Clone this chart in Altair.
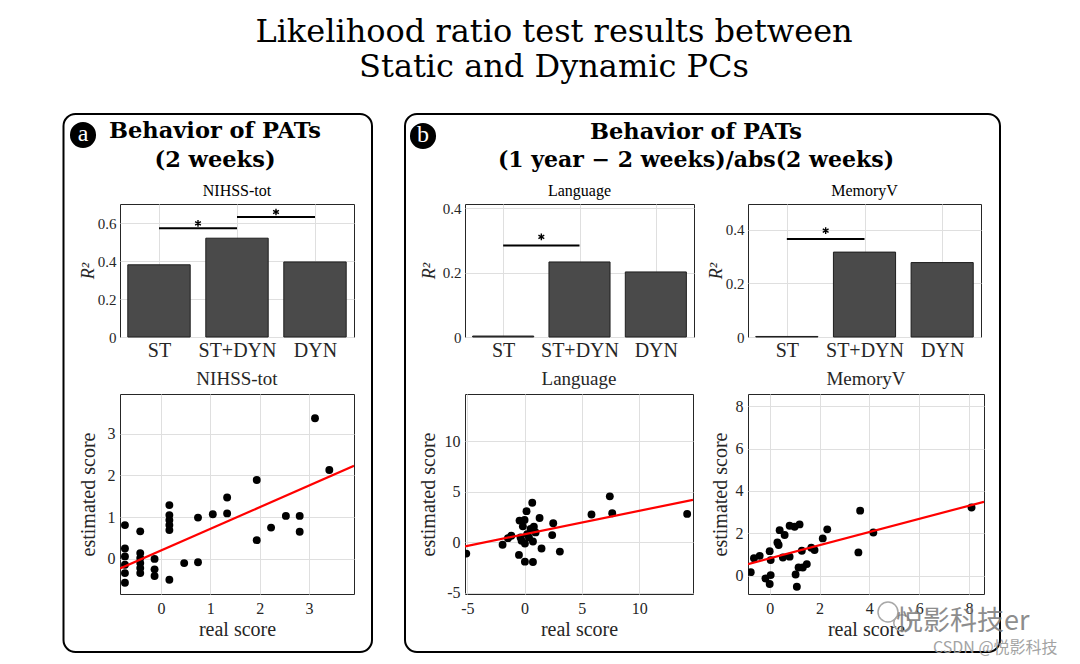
import json
import altair as alt
import pandas as pd

# ---------------------------------------------------------------- data
cats = ["ST", "ST+DYN", "DYN"]

r2_nihss = [0.380, 0.520, 0.395]
r2_lang = [0.003, 0.233, 0.202]
r2_mem = [0.002, 0.316, 0.277]

# significance brackets (category index from / to, bracket height, star height)
nihss_sig_from = [1, 2]
nihss_sig_to = [2, 3]
nihss_sig_y = [0.572, 0.632]
nihss_star_y = [0.598, 0.658]

lang_sig_from = [1]
lang_sig_to = [2]
lang_sig_y = [0.284]
lang_star_y = [0.311]

mem_sig_from = [1]
mem_sig_to = [2]
mem_sig_y = [0.365]
mem_star_y = [0.396]

nihss_real = [-0.73, -0.73, -0.73, -0.73, -0.73, -0.73, -0.42, -0.42, -0.42, -0.42, -0.42, -0.42,
              -0.13, -0.13, -0.13, 0.17, 0.17, 0.17, 0.17, 0.17, 0.17, 0.47, 0.75, 0.75, 1.05,
              1.34, 1.34, 1.94, 1.94, 2.23, 2.53, 2.81, 2.81, 3.12, 3.41]
nihss_est = [0.81, 0.25, 0.06, -0.14, -0.34, -0.57, 0.66, 0.14, 0.02, -0.10, -0.22, -0.34,
             0.00, -0.25, -0.41, 1.29, 1.05, 0.93, 0.81, 0.69, -0.50, -0.10, 0.99, -0.08, 1.07,
             1.47, 1.09, 1.89, 0.45, 0.75, 1.03, 1.03, 0.65, 3.37, 2.13]
nihss_fit_real = [-0.83, 3.91]
nihss_fit_est = [-0.23, 2.23]

lang_real = [-5.09, -1.92, -1.45, -1.16, -0.49, -0.44, 0.00, -0.15, 0.17, 0.67, -0.26, 0.03,
             0.23, 0.52, 0.81, 0.96, 0.73, 0.03, 0.73, 1.31, 1.48, 2.41, 2.50, 3.08, 5.84,
             7.44, 7.65, 14.19, 0.38, -0.35]
lang_est = [-1.10, -0.23, 0.43, 0.67, -1.23, 2.17, 2.23, 1.60, 3.10, 3.93, 0.17, -0.10,
            0.83, 1.33, 1.57, 1.00, 0.10, -1.90, -1.93, 2.43, -0.60, 0.73, 1.90, -0.90, 2.77,
            4.57, 2.90, 2.83, 0.50, 0.50]
lang_fit_real = [-5.2, 14.7]
lang_fit_est = [-0.38, 4.22]

mem_real = [-0.76, -0.63, -0.40, -0.17, 0.00, 0.04, 0.04, 0.00, 0.31, 0.36, 0.40, 0.60, 0.53,
            0.80, 0.80, 1.00, 1.20, 1.04, 1.09, 1.16, 1.29, 1.33, 1.49, 1.67, 1.80, 2.13, 2.31,
            3.56, 3.63, 4.16, 8.10]
mem_est = [0.17, 0.83, 0.94, -0.13, 1.16, 0.74, 0.03, -0.39, 1.57, 1.45, 2.15, 1.92, 0.86,
           0.90, 2.36, 2.31, 2.42, 0.06, -0.52, 0.39, 1.18, 0.39, 0.55, 1.32, 1.21, 1.76, 2.19,
           1.10, 3.07, 2.04, 3.22]
mem_fit_real = [-0.87, 8.6]
mem_fit_est = [0.55, 3.49]

# axis limits / ticks
nihss_bar_max, lang_bar_max, mem_bar_max = 0.70, 0.413, 0.495
nihss_bar_ticks = [0, 0.2, 0.4, 0.6]
lang_bar_ticks = [0, 0.1, 0.2, 0.3, 0.4]
mem_bar_ticks = [0, 0.1, 0.2, 0.3, 0.4]

nihss_xdom, nihss_ydom, nihss_ticks = [-0.83, 3.91], [-0.84, 3.95], [0, 1, 2, 3]
lang_xdom, lang_ydom, lang_ticks = [-5.2, 14.7], [-5.1, 14.7], [-5, 0, 5, 10]
mem_xdom, mem_ydom, mem_ticks = [-0.87, 8.6], [-0.86, 8.57], [0, 2, 4, 6, 8]

main_title = ["Likelihood ratio test results between", "Static and Dynamic PCs"]
panel_a_title = ["Behavior of PATs", "(2 weeks)"]
panel_b_title = ["Behavior of PATs", "(1 year \u2212 2 weeks)/abs(2 weeks)"]
watermark = ["\u60a6\u5f71\u79d1\u6280er", "CSDN @\u60a6\u5f71\u79d1\u6280"]

# ---------------------------------------------------------------- style
SERIF = "Liberation Serif"
HEAD = "DejaVu Serif"
CJK = "Noto Sans CJK SC"
INK = "#262626"
GRID = "#dfdfdf"
BAR_FILL = "#4a4a4a"
BAR_EDGE = "#1e1e1e"
FIT = "#ff0000"
STAR = "M0,-1L0,1M-0.866,-0.5L0.866,0.5M-0.866,0.5L0.866,-0.5"

BAR_H = 133
SC_H = 200

one = pd.DataFrame({"k": [0]})


def txt(text, x, y, size, font=SERIF, weight="normal", color="black", align="center",
        baseline="alphabetic", opacity=1):
    return alt.Chart(one).mark_text(
        text=text, font=font, fontSize=size, fontWeight=weight, color=color,
        align=align, baseline=baseline, opacity=opacity
    ).encode(x=alt.value(x), y=alt.value(y))


def box(x1, x2, y1, y2):
    return alt.Chart(one).mark_rect(
        filled=False, stroke="black", strokeWidth=2, cornerRadius=12
    ).encode(x=alt.value(x1), x2=alt.value(x2), y=alt.value(y1), y2=alt.value(y2))


def badge(letter, cx, cy):
    c = alt.Chart(one).mark_circle(size=680, color="black", opacity=1).encode(
        x=alt.value(cx), y=alt.value(cy))
    t = txt(letter, cx, cy - 1, 24, color="white", baseline="middle")
    return c + t


def ring(cx, cy, size):
    return alt.Chart(one).mark_point(
        shape="circle", size=size, filled=False, stroke="#a8a8a8", strokeWidth=1.5, opacity=1
    ).encode(x=alt.value(cx), y=alt.value(cy))


def bar_panel(vals, sfrom, sto, sy, stary, ymax, yticks, width, subtitle, ytitle_x, extra=None):
    n = len(cats)
    df = pd.DataFrame({"cat": cats, "r2": vals, "pos": list(range(1, n + 1))})
    xscale = alt.Scale(domain=[0.5, n + 0.5], nice=False, zero=False)
    yscale = alt.Scale(domain=[0, ymax], nice=False, zero=False)
    label_expr = json.dumps([""] + cats) + "[datum.value]"
    xaxis = alt.Axis(values=list(range(1, n + 1)), labelExpr=label_expr, title=None,
                     labelFontSize=20, labelPadding=19, labelBaseline="alphabetic")
    yaxis = alt.Axis(values=yticks, labelExpr="'' + datum.value", title="R\u00b2",
                     titleFontStyle="italic", titleFontSize=18, titleX=ytitle_x,
                     titleY=BAR_H / 2, titleBaseline="alphabetic", titleAngle=270,
                     labelFontSize=15, labelPadding=4)
    bars = alt.Chart(df).transform_calculate(
        x0="datum.pos - 0.4", x1="datum.pos + 0.4"
    ).mark_rect(fill=BAR_FILL, stroke=BAR_EDGE, strokeWidth=1).encode(
        x=alt.X("x0:Q", scale=xscale, axis=xaxis),
        x2="x1:Q",
        y=alt.Y("r2:Q", scale=yscale, axis=yaxis),
        y2=alt.datum(0),
    )
    sig = pd.DataFrame({"a": sfrom, "b": sto, "y": sy, "sy": stary})
    rules = alt.Chart(sig).mark_rule(color="black", strokeWidth=2).encode(
        x="a:Q", x2="b:Q", y="y:Q")
    stars = alt.Chart(sig).transform_calculate(m="(datum.a + datum.b) / 2").mark_point(
        shape=STAR, size=45, filled=False, stroke="black", strokeWidth=1.4, opacity=1
    ).encode(x="m:Q", y="sy:Q")
    sub = txt(subtitle, width / 2, -8, 16)
    layers = [bars, rules, stars, sub]
    if extra:
        layers += extra
    return alt.layer(*layers).properties(width=width, height=BAR_H)


def scatter_panel(real, est, fx, fy, xdom, ydom, ticks, width, title, ytitle_x, extra=None):
    pts = pd.DataFrame({"real": real, "est": est})
    fit = pd.DataFrame({"real": fx, "est": fy})
    xscale = alt.Scale(domain=xdom, nice=False, zero=False)
    yscale = alt.Scale(domain=ydom, nice=False, zero=False)
    xaxis = alt.Axis(values=ticks, labelExpr="'' + datum.value", title="real score",
                     titleY=41, titleBaseline="alphabetic", labelFontSize=16,
                     labelPadding=19, labelBaseline="alphabetic")
    yaxis = alt.Axis(values=ticks, labelExpr="'' + datum.value", title="estimated score",
                     titleX=ytitle_x, titleY=SC_H / 2, titleBaseline="alphabetic",
                     titleAngle=270, labelFontSize=16, labelPadding=5)
    dots = alt.Chart(pts).mark_circle(size=62, color="black", opacity=1, clip=True).encode(
        x=alt.X("real:Q", scale=xscale, axis=xaxis),
        y=alt.Y("est:Q", scale=yscale, axis=yaxis),
    )
    line = alt.Chart(fit).mark_line(color=FIT, strokeWidth=2.2, clip=True).encode(
        x="real:Q", y="est:Q")
    head = txt(title, width / 2, -9, 19, color=INK)
    layers = [dots, line, head]
    if extra:
        layers += extra
    return alt.layer(*layers).properties(width=width, height=SC_H)


# ---------------------------------------------------------------- panel a
a_deco = [
    box(-56.5, 252, -90, 448),
    badge("a", -37, -69),
    txt(panel_a_title[0], 95, -66, 22.5, font=HEAD, weight="bold"),
    txt(panel_a_title[1], 95, -37, 22.5, font=HEAD, weight="bold"),
]
barA = bar_panel(r2_nihss, nihss_sig_from, nihss_sig_to, nihss_sig_y, nihss_star_y,
                 nihss_bar_max, nihss_bar_ticks, 234, "NIHSS-tot", -27, a_deco)
scatA = scatter_panel(nihss_real, nihss_est, nihss_fit_real, nihss_fit_est, nihss_xdom,
                      nihss_ydom, nihss_ticks, 234, "NIHSS-tot", -26)
colA = alt.vconcat(barA, scatA, spacing=57, bounds="flush")

# ---------------------------------------------------------------- panel b
b_deco = [
    box(-60, 535, -90, 448),
    badge("b", -42, -68),
    txt(panel_b_title[0], 231, -65, 22.5, font=HEAD, weight="bold"),
    txt(panel_b_title[1], 231, -37, 22, font=HEAD, weight="bold"),
]
barL = bar_panel(r2_lang, lang_sig_from, lang_sig_to, lang_sig_y, lang_star_y,
                 lang_bar_max, lang_bar_ticks, 229, "Language", -31, b_deco)
barM = bar_panel(r2_mem, mem_sig_from, mem_sig_to, mem_sig_y, mem_star_y,
                 mem_bar_max, mem_bar_ticks, 233, "MemoryV", -27)
wm = [
    ring(140, 218, 400),
    ring(154, 229, 270),
    txt(watermark[0], 148, 236, 27, font=CJK, color="#7a7a7a", align="left", opacity=0.85),
    txt(watermark[1], 185, 259, 16, font=CJK, color="#9a9a9a", align="left", opacity=0.9),
]
scatL = scatter_panel(lang_real, lang_est, lang_fit_real, lang_fit_est, lang_xdom, lang_ydom,
                      lang_ticks, 228, "Language", -31)
scatM = scatter_panel(mem_real, mem_est, mem_fit_real, mem_fit_est, mem_xdom, mem_ydom,
                      mem_ticks, 236, "MemoryV", -22, wm)
colB = alt.concat(barL, barM, scatL, scatM, columns=2,
                  spacing={"row": 57, "column": 54}, bounds="flush",
                  align={"row": "each", "column": "none"})

chart = alt.hconcat(colA, colB, spacing=29, bounds="full").properties(
    padding={"left": 62, "top": 15, "right": 0, "bottom": 0},
    background="white",
    title=alt.TitleParams(text=main_title, font=HEAD, fontSize=32, fontWeight="normal",
                          color="black", anchor="middle", baseline="bottom", offset=-3,
                          lineHeight=35, dx=-6),
).configure_view(stroke=INK, strokeWidth=1).configure_axis(
    labelFont=SERIF, titleFont=SERIF, labelColor=INK, titleColor=INK, titleFontWeight="normal",
    titleFontSize=20, domain=False, ticks=False, tickSize=0, grid=True, gridColor=GRID,
    gridWidth=1,
)

chart.save("out.html", embed_options={"renderer": "svg", "actions": False})
